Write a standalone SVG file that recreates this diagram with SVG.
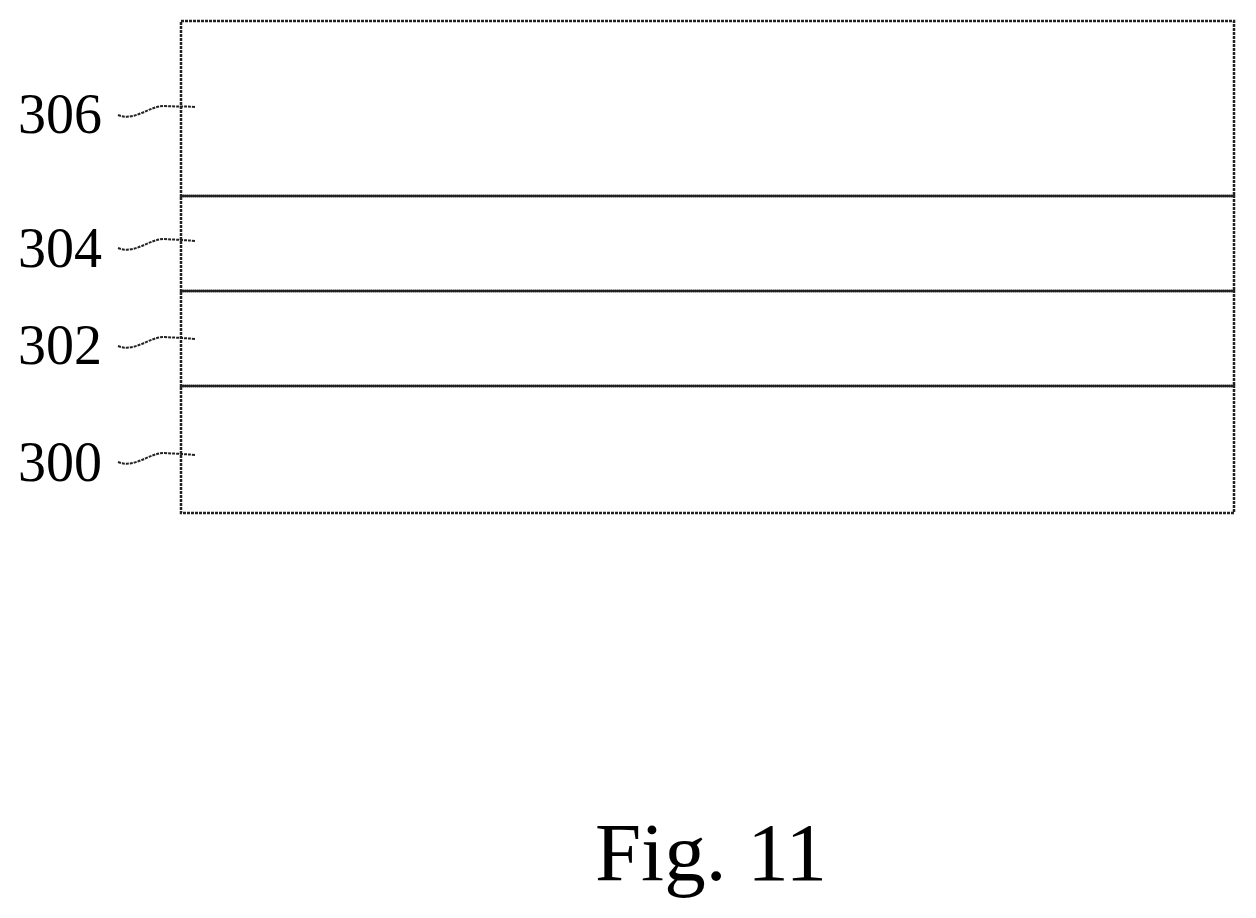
<svg xmlns="http://www.w3.org/2000/svg" width="1256" height="918" viewBox="0 0 1256 918">
<style>
.l{fill:none;stroke:#222;stroke-width:2.5;stroke-dasharray:3 1}
.t{font-family:"Liberation Serif",serif;font-size:56px;fill:#000}
.w{fill:none;stroke:#222;stroke-width:2;stroke-dasharray:3 1}
</style>
<rect width="1256" height="918" fill="#fff"/>
<g id="layer306"><rect class="l" x="181" y="21" width="1053" height="175"/><text class="t" x="18" y="133">306</text></g>
<g id="layer304"><rect class="l" x="181" y="196" width="1053" height="95"/><text class="t" x="18" y="267">304</text></g>
<g id="layer302"><rect class="l" x="181" y="291" width="1053" height="95"/><text class="t" x="18" y="364">302</text></g>
<g id="layer300"><rect class="l" x="181" y="386" width="1053" height="127"/><text class="t" x="18" y="481">300</text></g>
<g id="connectors">
<path class="w" d="M118 115 C135 122,150 105,165 106 S185 106,195 107"/>
<path class="w" d="M118 248 C135 255,150 238,165 239 S185 240,195 241"/>
<path class="w" d="M118 346 C135 353,150 336,165 337 S185 338,195 339"/>
<path class="w" d="M118 462 C135 469,150 452,165 453 S185 454,195 455"/>
</g>
<text x="711" y="880" text-anchor="middle" style="font-family:'Liberation Serif',serif;font-size:83px">Fig. 11</text>
</svg>
